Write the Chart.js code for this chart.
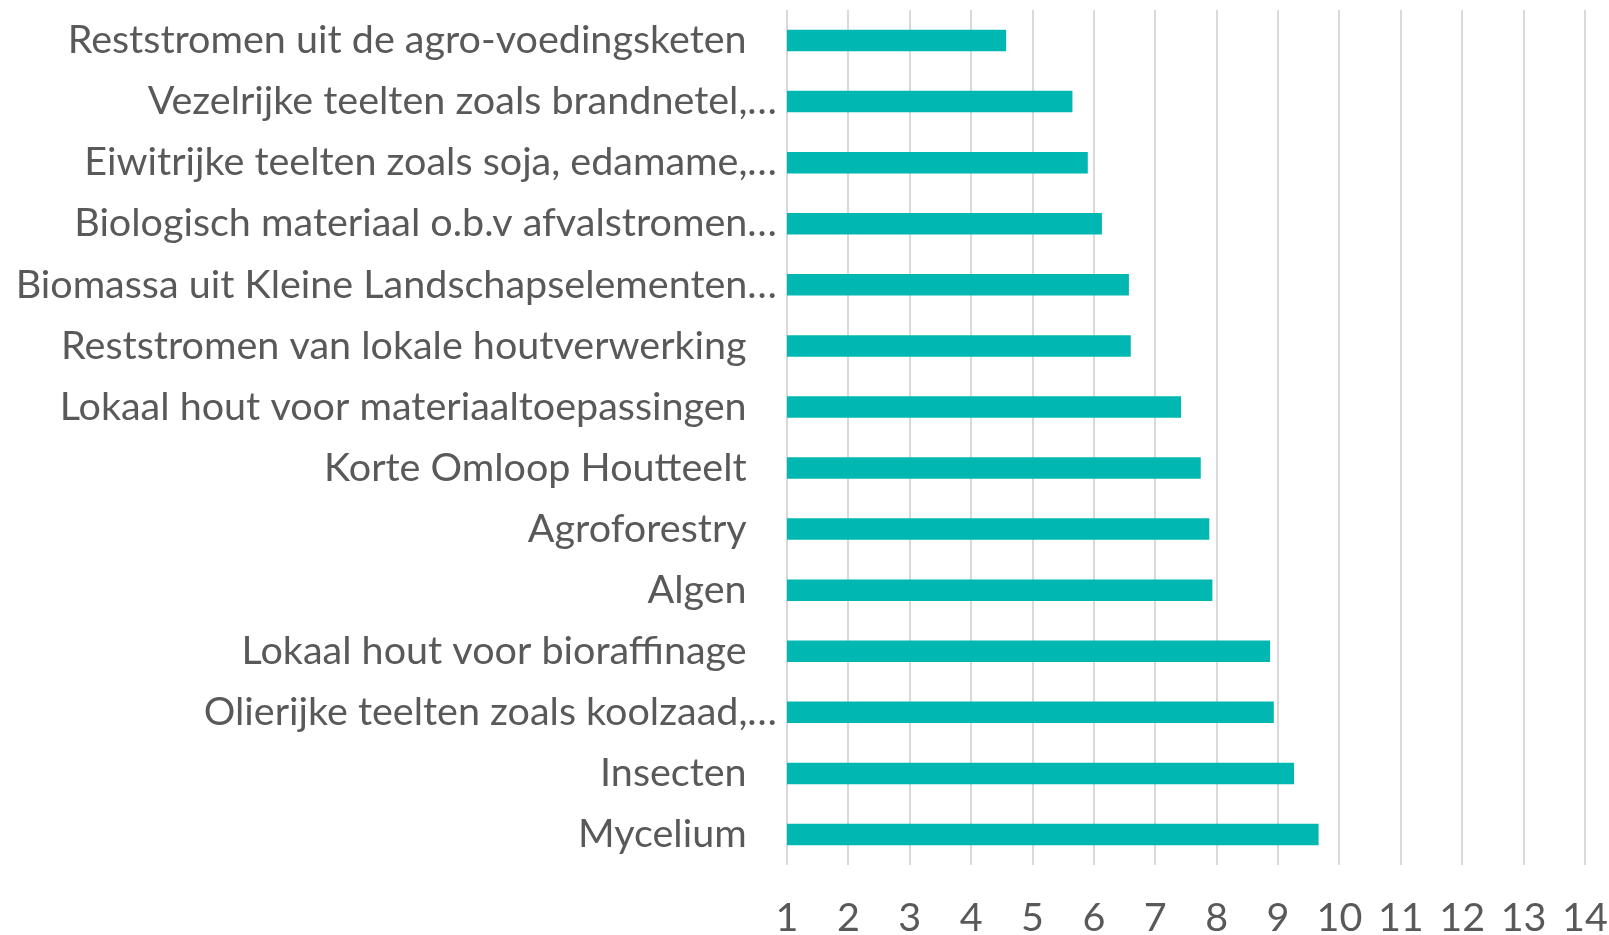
<!DOCTYPE html>
<html>
<head>
<meta charset="utf-8">
<script src="https://cdn.jsdelivr.net/npm/chart.js@4.4.1/dist/chart.umd.min.js"></script>
<style>
  html, body { margin: 0; padding: 0; background: #ffffff; }
  #wrap { width: 1609px; height: 935px; position: relative; }
</style>
</head>
<body>
<div id="wrap"><canvas id="chart"></canvas></div>
<script>
// Categories, top to bottom
const categories = [
  "Reststromen uit de agro-voedingsketen",
  "Vezelrijke teelten zoals brandnetel,…",
  "Eiwitrijke teelten zoals soja, edamame,…",
  "Biologisch materiaal o.b.v afvalstromen…",
  "Biomassa uit Kleine Landschapselementen…",
  "Reststromen van lokale houtverwerking",
  "Lokaal hout voor materiaaltoepassingen",
  "Korte Omloop Houtteelt",
  "Agroforestry",
  "Algen",
  "Lokaal hout voor bioraffinage",
  "Olierijke teelten zoals koolzaad,…",
  "Insecten",
  "Mycelium"
];

// Average score per category
const scores = [4.57, 5.65, 5.90, 6.13, 6.57, 6.60, 7.42, 7.74, 7.88, 7.93, 8.87, 8.93, 9.26, 9.66];

// Value axis range and tick step
const axisMin = 1;
const axisMax = 14;
const axisStep = 1;

const textColor = '#595959';
const gridColor = '#d9d9d9';
const barColor = '#00b8b1';
const fontFamily = 'Lato, "Open Sans", sans-serif';

new Chart(document.getElementById('chart'), {
  type: 'bar',
  data: {
    labels: categories,
    datasets: [{
      data: scores,
      backgroundColor: barColor,
      borderWidth: 0,
      categoryPercentage: 1,
      barPercentage: 0.352
    }]
  },
  options: {
    indexAxis: 'y',
    responsive: true,
    maintainAspectRatio: false,
    animation: false,
    layout: { padding: { top: 10, right: 24, left: 0, bottom: 0 } },
    plugins: {
      legend: { display: false },
      tooltip: { enabled: false }
    },
    scales: {
      x: {
        type: 'linear',
        min: axisMin,
        max: axisMax,
        ticks: {
          stepSize: axisStep,
          color: textColor,
          padding: 30,
          font: { family: fontFamily, size: 39.5 }
        },
        grid: {
          color: gridColor,
          lineWidth: 2,
          drawTicks: false
        },
        border: { display: false },
        afterFit(scale) {
          scale.height = 70;
          scale.paddingLeft = 0;
          scale.paddingRight = 0;
        }
      },
      y: {
        type: 'category',
        ticks: {
          color: textColor,
          padding: 10,
          autoSkip: false,
          font: { family: fontFamily, size: 39.5 },
          // Full labels sit a little further from the axis than the shortened ones
          callback(value) {
            const label = this.getLabelForValue(value);
            return label.endsWith('…') ? label : label + '   ';
          }
        },
        grid: { display: false, drawTicks: false },
        border: { display: false },
        afterFit(scale) {
          scale.width = 787;
          scale.paddingTop = 0;
          scale.paddingBottom = 0;
        }
      }
    }
  }
});
</script>
</body>
</html>
